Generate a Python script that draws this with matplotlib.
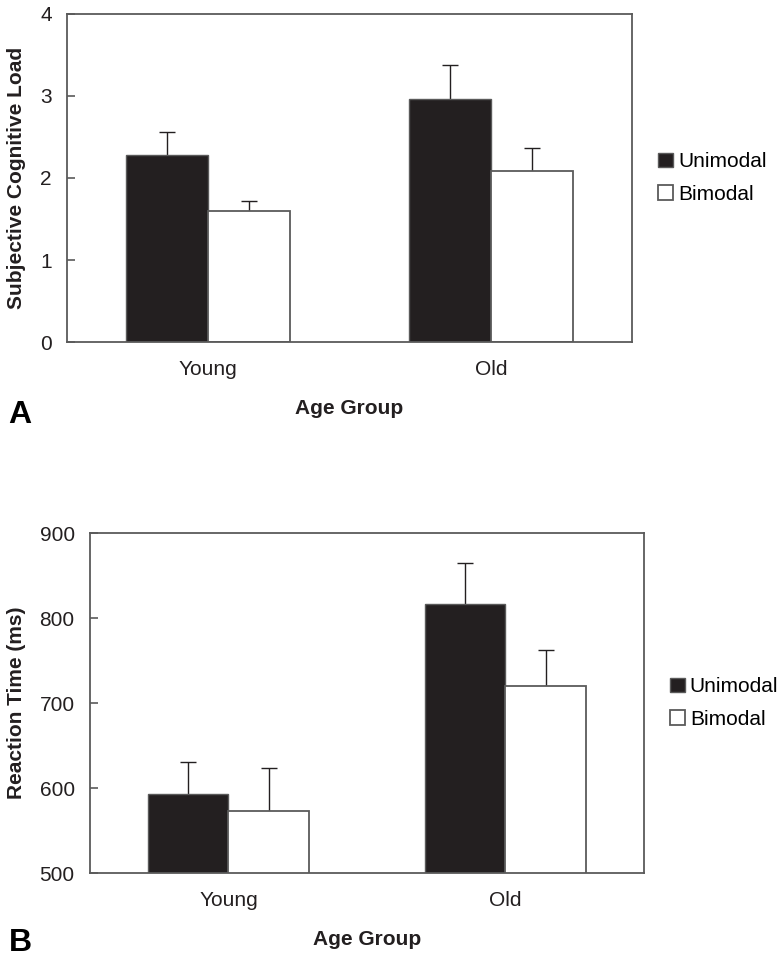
#Two-panel bar chart: subjective load (A) and reaction time (B) by age group
import numpy as np
import matplotlib
matplotlib.use('Agg')
import matplotlib.pyplot as plt

plt.rcParams['font.family'] = ['Liberation Sans', 'DejaVu Sans']

groups = ['Young', 'Old']
conditions = ['Unimodal', 'Bimodal']

#panel A - subjective cognitive load
load_uni = [2.28, 2.96]
load_bi = [1.60, 2.08]
load_uni_err = [0.28, 0.42]
load_bi_err = [0.12, 0.28]

#panel B - reaction time (ms)
rt_uni = [593, 816]
rt_bi = [573, 720]
rt_uni_err = [38, 49]
rt_bi_err = [50, 42]

ink = '#231f20'
edge = '#5a5a5a'
width = 0.29


def upper_err(ax, x, y, err):
    #error bar going up only, no cap at the bar top
    eb = ax.errorbar(x, y, yerr=[np.zeros(len(y)), err], fmt='none', ecolor=ink,
                     elinewidth=1.0, capsize=6, capthick=1.0, zorder=1)
    eb[1][0].set_visible(False)


def panel(ax, uni, bi, uni_err, bi_err, ylabel, ylim, yticks):
    x = np.arange(1, len(groups) + 1)
    upper_err(ax, x - width / 2, uni, uni_err)
    upper_err(ax, x + width / 2, bi, bi_err)
    b1 = ax.bar(x - width / 2, uni, width, color=ink, edgecolor=edge, linewidth=1.0,
                label=conditions[0], zorder=2)
    b2 = ax.bar(x + width / 2, bi, width, color='white', edgecolor=edge, linewidth=1.3,
                label=conditions[1], zorder=2)
    ax.set_xlim(0.5, 2.5)
    ax.set_ylim(*ylim)
    ax.set_yticks(yticks)
    ax.set_xticks(x)
    ax.set_xticklabels(groups)
    ax.tick_params(axis='x', length=0, pad=13, labelsize=15, colors=ink)
    ax.tick_params(axis='y', direction='in', length=6, width=1.2, color=edge, pad=11,
                   labelsize=15, labelcolor=ink)
    for s in ax.spines.values():
        s.set_color(edge)
        s.set_linewidth(1.3)
    ax.set_ylabel(ylabel, fontsize=15, fontweight='bold', color=ink, labelpad=10)
    ax.set_xlabel('Age Group', fontsize=15, fontweight='bold', color=ink, labelpad=14)
    ax.legend(handles=[b1, b2], loc='center left', bbox_to_anchor=(1.032, 0.5),
              frameon=False, fontsize=15, handlelength=0.7, handleheight=0.7,
              handletextpad=0.25, labelspacing=0.65, borderaxespad=0)


fig = plt.figure(figsize=(7.79, 9.58), dpi=100)
ax1 = fig.add_axes([0.0860, 0.6430, 0.7253, 0.3424])
ax2 = fig.add_axes([0.1155, 0.0887, 0.7112, 0.3549])

panel(ax1, load_uni, load_bi, load_uni_err, load_bi_err, 'Subjective Cognitive Load',
      (0, 4), [0, 1, 2, 3, 4])
panel(ax2, rt_uni, rt_bi, rt_uni_err, rt_bi_err, 'Reaction Time (ms)',
      (500, 900), [500, 600, 700, 800, 900])

fig.text(0.026, 1 - 415 / 958, 'A', fontsize=23, fontweight='bold', color='black',
         ha='center', va='center')
fig.text(0.026, 1 - 943 / 958, 'B', fontsize=23, fontweight='bold', color='black',
         ha='center', va='center')

plt.savefig('out.png', dpi=100)
plt.close()
